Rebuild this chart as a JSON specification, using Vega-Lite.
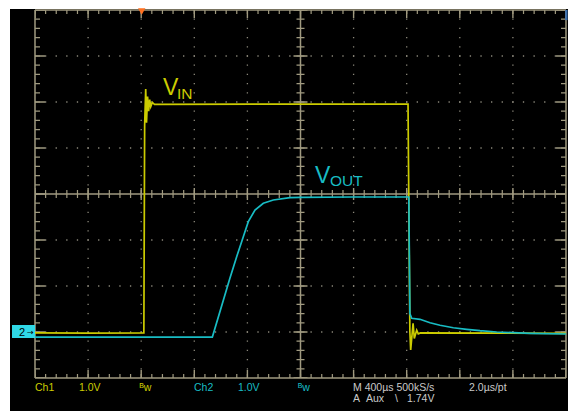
{
"$schema": "https://vega.github.io/schema/vega-lite/v6.json",
"width": 558,
"height": 402,
"autosize": {"type": "none"},
"padding": {"left": 10, "top": 9, "right": 0, "bottom": 0},
"background": "#ffffff",
"config": {"view": {"fill": "#000000", "stroke": null}},
"encoding": {
  "x": {"field": "x", "type": "quantitative", "scale": {"domain": [-5.4708, 5.0377], "nice": false, "zero": false}, "axis": null},
  "y": {"field": "y", "type": "quantitative", "scale": {"domain": [-4.7174, 4.0217], "nice": false, "zero": false}, "axis": null}
},
"layer": [
  {
    "data": {"values": [{"x": -5, "x2": 5, "y": -3}, {"x": -5, "x2": 5, "y": -2}, {"x": -5, "x2": 5, "y": -1}, {"x": -5, "x2": 5, "y": 1}, {"x": -5, "x2": 5, "y": 2}, {"x": -5, "x2": 5, "y": 3}]},
    "mark": {"type": "rule", "color": "#8a877a", "strokeWidth": 1.3, "strokeDash": [1.3, 9.32], "strokeDashOffset": 0.65},
    "encoding": {"x2": {"field": "x2"}}
  },
  {
    "data": {"values": [{"x": -4, "y": -4, "y2": 4}, {"x": -3, "y": -4, "y2": 4}, {"x": -2, "y": -4, "y2": 4}, {"x": -1, "y": -4, "y2": 4}, {"x": 1, "y": -4, "y2": 4}, {"x": 2, "y": -4, "y2": 4}, {"x": 3, "y": -4, "y2": 4}, {"x": 4, "y": -4, "y2": 4}]},
    "mark": {"type": "rule", "color": "#8a877a", "strokeWidth": 1.3, "strokeDash": [1.3, 7.9], "strokeDashOffset": 0.65},
    "encoding": {"y2": {"field": "y2"}}
  },
  {
    "data": {"values": [{"x": -5, "x2": 5, "y": 4}, {"x": -5, "x2": 5, "y": -4}, {"x": -5, "x2": 5, "y": 0}]},
    "mark": {"type": "rule", "color": "#a09a80", "strokeWidth": 1.5},
    "encoding": {"x2": {"field": "x2"}}
  },
  {
    "data": {"values": [{"x": -5, "y": -4, "y2": 4}, {"x": 5, "y": -4, "y2": 4}, {"x": 0, "y": -4, "y2": 4}]},
    "mark": {"type": "rule", "color": "#a09a80", "strokeWidth": 1.5},
    "encoding": {"y2": {"field": "y2"}}
  },
  {
    "data": {"values": [{"x": -5, "x2": 5, "y": 3.9565}, {"x": -5, "x2": 5, "y": -3.9565}]},
    "mark": {"type": "rule", "color": "#a09a80", "strokeWidth": 4, "strokeDash": [1.2, 9.42], "strokeDashOffset": 0.6},
    "encoding": {"x2": {"field": "x2"}}
  },
  {
    "data": {"values": [{"x": -5, "x2": 5, "y": 3.913}, {"x": -5, "x2": 5, "y": -3.913}]},
    "mark": {"type": "rule", "color": "#a09a80", "strokeWidth": 8, "strokeDash": [1.4, 51.7], "strokeDashOffset": 0.7},
    "encoding": {"x2": {"field": "x2"}}
  },
  {
    "data": {"values": [{"x": -4.953, "y": -4, "y2": 4}, {"x": 4.953, "y": -4, "y2": 4}]},
    "mark": {"type": "rule", "color": "#a09a80", "strokeWidth": 5, "strokeDash": [1.2, 8.0], "strokeDashOffset": 0.6},
    "encoding": {"y2": {"field": "y2"}}
  },
  {
    "data": {"values": [{"x": -4.906, "y": -4, "y2": 4}, {"x": 4.906, "y": -4, "y2": 4}]},
    "mark": {"type": "rule", "color": "#a09a80", "strokeWidth": 10, "strokeDash": [1.4, 44.6], "strokeDashOffset": 0.7},
    "encoding": {"y2": {"field": "y2"}}
  },
  {
    "data": {"values": [{"x": -5, "x2": 5, "y": 0}]},
    "mark": {"type": "rule", "color": "#a09a80", "strokeWidth": 8, "strokeDash": [1.2, 9.42], "strokeDashOffset": 0.6},
    "encoding": {"x2": {"field": "x2"}}
  },
  {
    "data": {"values": [{"x": -5, "x2": 5, "y": 0}]},
    "mark": {"type": "rule", "color": "#a09a80", "strokeWidth": 12, "strokeDash": [1.4, 51.7], "strokeDashOffset": 0.7},
    "encoding": {"x2": {"field": "x2"}}
  },
  {
    "data": {"values": [{"x": 0, "y": -4, "y2": 4}]},
    "mark": {"type": "rule", "color": "#a09a80", "strokeWidth": 8, "strokeDash": [1.2, 8.0], "strokeDashOffset": 0.6},
    "encoding": {"y2": {"field": "y2"}}
  },
  {
    "data": {"values": [{"x": 0, "y": -4, "y2": 4}]},
    "mark": {"type": "rule", "color": "#a09a80", "strokeWidth": 14, "strokeDash": [1.4, 44.6], "strokeDashOffset": 0.7},
    "encoding": {"y2": {"field": "y2"}}
  },
  {
    "data": {"values": [
      {"ch": "1", "i": 0, "x": -5.0, "y": -3.02},
      {"ch": "1", "i": 1, "x": -4.0, "y": -3.025},
      {"ch": "1", "i": 2, "x": -2.95, "y": -3.02},
      {"ch": "1", "i": 3, "x": -2.935, "y": 1.5},
      {"ch": "1", "i": 4, "x": -2.915, "y": 2.28},
      {"ch": "1", "i": 5, "x": -2.9, "y": 1.55},
      {"ch": "1", "i": 6, "x": -2.88, "y": 2.12},
      {"ch": "1", "i": 7, "x": -2.86, "y": 1.8},
      {"ch": "1", "i": 8, "x": -2.84, "y": 2.05},
      {"ch": "1", "i": 9, "x": -2.82, "y": 1.9},
      {"ch": "1", "i": 10, "x": -2.79, "y": 1.99},
      {"ch": "1", "i": 11, "x": -2.75, "y": 1.95},
      {"ch": "1", "i": 12, "x": 0.0, "y": 1.955},
      {"ch": "1", "i": 13, "x": 2.025, "y": 1.957},
      {"ch": "1", "i": 14, "x": 2.06, "y": -3.0},
      {"ch": "1", "i": 15, "x": 2.075, "y": -3.39},
      {"ch": "1", "i": 16, "x": 2.12, "y": -2.81},
      {"ch": "1", "i": 17, "x": 2.143, "y": -3.14},
      {"ch": "1", "i": 18, "x": 2.188, "y": -2.96},
      {"ch": "1", "i": 19, "x": 2.218, "y": -3.04},
      {"ch": "1", "i": 20, "x": 2.26, "y": -3.02},
      {"ch": "1", "i": 21, "x": 5.0, "y": -3.028},
      {"ch": "2", "i": 0, "x": -5.0, "y": -3.11},
      {"ch": "2", "i": 1, "x": -1.66, "y": -3.11},
      {"ch": "2", "i": 2, "x": -1.328, "y": -1.826},
      {"ch": "2", "i": 3, "x": -1.202, "y": -1.363},
      {"ch": "2", "i": 4, "x": -1.077, "y": -0.928},
      {"ch": "2", "i": 5, "x": -0.983, "y": -0.602},
      {"ch": "2", "i": 6, "x": -0.857, "y": -0.348},
      {"ch": "2", "i": 7, "x": -0.7, "y": -0.202},
      {"ch": "2", "i": 8, "x": -0.512, "y": -0.13},
      {"ch": "2", "i": 9, "x": -0.198, "y": -0.08},
      {"ch": "2", "i": 10, "x": -0.009, "y": -0.072},
      {"ch": "2", "i": 11, "x": 1.0, "y": -0.065},
      {"ch": "2", "i": 12, "x": 2.04, "y": -0.065},
      {"ch": "2", "i": 13, "x": 2.06, "y": -2.6},
      {"ch": "2", "i": 14, "x": 2.094, "y": -2.702},
      {"ch": "2", "i": 15, "x": 2.25, "y": -2.724},
      {"ch": "2", "i": 16, "x": 2.439, "y": -2.798},
      {"ch": "2", "i": 17, "x": 2.627, "y": -2.854},
      {"ch": "2", "i": 18, "x": 2.878, "y": -2.907},
      {"ch": "2", "i": 19, "x": 3.13, "y": -2.941},
      {"ch": "2", "i": 20, "x": 3.38, "y": -2.972},
      {"ch": "2", "i": 21, "x": 3.695, "y": -3.0},
      {"ch": "2", "i": 22, "x": 4.008, "y": -3.015},
      {"ch": "2", "i": 23, "x": 4.322, "y": -3.028},
      {"ch": "2", "i": 24, "x": 5.0, "y": -3.043}
    ]},
    "mark": {"type": "line", "strokeWidth": 1.7, "interpolate": "linear"},
    "encoding": {
      "color": {"field": "ch", "type": "nominal", "scale": {"domain": ["0", "1", "2"], "range": ["#cacaca", "#cccc00", "#18bcc4"]}, "legend": null},
      "order": {"field": "i", "type": "quantitative"}
    }
  },
  {
    "data": {"values": [{"x": -5.433, "x2": -5.0, "y": -2.848, "y2": -3.13}]},
    "mark": {"type": "rect", "color": "#30d8e6"},
    "encoding": {"x2": {"field": "x2"}, "y2": {"field": "y2"}}
  },
  {
    "data": {"values": [{"x": 4.985, "x2": 5.03, "y": 4.0, "y2": 3.78}]},
    "mark": {"type": "rect", "color": "#3a6fb0"},
    "encoding": {"x2": {"field": "x2"}, "y2": {"field": "y2"}}
  },
  {
    "data": {"values": [{"x": -2.99, "y": 3.967}]},
    "mark": {"type": "point", "shape": "triangle-down", "filled": true, "color": "#ff7020", "opacity": 1, "size": 55, "strokeWidth": 0}
  },
  {
    "data": {"values": [{"t": "2", "x": -5.30, "y": -3.087}]},
    "mark": {"type": "text", "align": "left", "baseline": "alphabetic", "font": "Liberation Sans", "fontSize": 11, "color": "#000000"},
    "encoding": {"text": {"field": "t"}}
  },
  {
    "data": {"values": [{"t": "→", "x": -5.15, "y": -3.06}]},
    "mark": {"type": "text", "align": "left", "baseline": "alphabetic", "font": "DejaVu Sans", "fontSize": 8, "color": "#000000"},
    "encoding": {"text": {"field": "t"}}
  },
  {
    "data": {"values": [{"t": "V", "x": -2.589, "y": 2.152, "ch": "1"}, {"t": "V", "x": 0.273, "y": 0.239, "ch": "2"}]},
    "mark": {"type": "text", "align": "left", "baseline": "alphabetic", "font": "Liberation Sans", "fontSize": 23},
    "encoding": {
      "text": {"field": "t"},
      "color": {"field": "ch", "type": "nominal", "scale": {"domain": ["0", "1", "2"], "range": ["#cacaca", "#cccc00", "#18bcc4"]}, "legend": null}
    }
  },
  {
    "data": {"values": [{"t": "IN", "x": -2.326, "y": 2.065, "ch": "1"}, {"t": "OUT", "x": 0.556, "y": 0.174, "ch": "2"}]},
    "mark": {"type": "text", "align": "left", "baseline": "alphabetic", "font": "Liberation Sans", "fontSize": 15.5},
    "encoding": {
      "text": {"field": "t"},
      "color": {"field": "ch", "type": "nominal", "scale": {"domain": ["0", "1", "2"], "range": ["#cacaca", "#cccc00", "#18bcc4"]}, "legend": null}
    }
  },
  {
    "data": {"values": [
      {"t": "Ch1", "x": -5.0, "y": -4.283, "ch": "1"},
      {"t": "1.0V", "x": -4.172, "y": -4.283, "ch": "1"},
      {"t": "ᴮw", "x": -3.032, "y": -4.283, "ch": "1"},
      {"t": "Ch2", "x": -2.006, "y": -4.283, "ch": "2"},
      {"t": "1.0V", "x": -1.177, "y": -4.283, "ch": "2"},
      {"t": "ᴮw", "x": -0.047, "y": -4.283, "ch": "2"},
      {"t": "M 400µs 500kS/s", "x": 0.989, "y": -4.283, "ch": "0"},
      {"t": "2.0µs/pt", "x": 3.174, "y": -4.283, "ch": "0"},
      {"t": "A", "x": 0.989, "y": -4.515, "ch": "0"},
      {"t": "Aux", "x": 1.234, "y": -4.515, "ch": "0"},
      {"t": "\\", "x": 1.78, "y": -4.515, "ch": "0"},
      {"t": "1.74V", "x": 2.006, "y": -4.515, "ch": "0"}
    ]},
    "mark": {"type": "text", "align": "left", "baseline": "alphabetic", "font": "Liberation Sans", "fontSize": 10.5},
    "encoding": {
      "text": {"field": "t"},
      "color": {"field": "ch", "type": "nominal", "scale": {"domain": ["0", "1", "2"], "range": ["#cacaca", "#cccc00", "#18bcc4"]}, "legend": null}
    }
  }
]
}
